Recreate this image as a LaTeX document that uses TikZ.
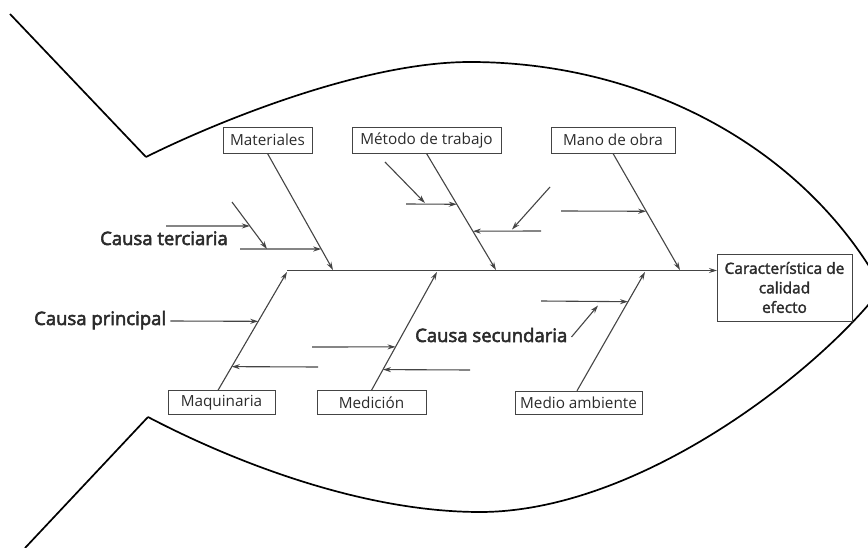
\documentclass[tikz,border=0pt]{standalone}
\usepackage{fontspec}
\setmainfont{Open Sans}
\newfontfamily\labfont{Open Sans}[FakeBold=3]
\newfontfamily\efffont{Open Sans}[FakeBold=2]
\usetikzlibrary{arrows.meta,calc}
\definecolor{ink}{HTML}{2B2B2B}
\definecolor{bone}{HTML}{444444}
\tikzset{
  catbox/.style={draw=bone, line width=0.9pt, text=ink, font=\fontsize{15.3}{17}\selectfont, inner sep=0pt, minimum height=26pt, anchor=center},
  lowbox/.style={catbox, minimum height=23.5pt},
  fish/.style={draw=black, line width=1.7pt, line join=miter},
  bonel/.style={draw=bone, line width=1.1pt},
  arr/.style={bonel, -{Stealth[length=8pt,width=5pt]}},
  cause/.style={text=ink, font=\labfont\fontsize{18.5}{20}\selectfont, inner sep=0pt, anchor=base west}
}
\begin{document}
\begin{tikzpicture}[x=1pt,y=-1pt]
\useasboundingbox (0,0) rectangle (868,548);
\clip (0,0) rectangle (868,548);
% fish outline
\coordinate (tailT) at (10,14);
\coordinate (tailB) at (25,548);
\coordinate (notchT) at (146,157);
\coordinate (notchB) at (148,417);
\coordinate (topP) at (470,62);
\coordinate (botP) at (480,512);
\coordinate (nose) at (882,288);
\draw[fish] (tailT) -- (notchT);
\draw[fish] (tailB) -- (notchB);
\draw[fish] (notchT) .. controls (210,125) and (360,62) .. (topP)
             .. controls (645,62) and (805,148) .. (nose);
\draw[fish] (notchB) .. controls (230,460) and (360,512) .. (botP)
             .. controls (640,512) and (820,370) .. (nose);

% category boxes
\node[catbox, minimum width=89pt]  (mat)   at (267.5,140) {Materiales};
\node[catbox, minimum width=149pt] (met)   at (426.5,140) {Método de trabajo};
\node[catbox, minimum width=124pt] (mano)  at (613,140)   {Mano de obra};
\node[lowbox, minimum width=107pt] (maq)   at (221.5,402.5) {Maquinaria};
\node[lowbox, minimum width=109pt] (med)   at (371.5,402.5) {Medición};
\node[lowbox, minimum width=127pt] (medio) at (578.5,403) {Medio ambiente};
\node[draw=bone, line width=0.9pt, text=ink, minimum width=135pt, minimum height=67pt, inner sep=0pt, align=center,
      font=\efffont\fontsize{15.5}{19.5}\selectfont] (eff) at (784.5,287.5) {Característica de\\calidad\\efecto};

% spine
\coordinate (sS) at (287,270.5);
\coordinate (sE) at (717,270.5);
\draw[arr] (sS) -- (sE);

% bone ends on spine
\coordinate (bMat)  at (333,270);
\coordinate (bMet)  at (496,270);
\coordinate (bMano) at (680,270);
\coordinate (bMaq)  at (287,272);
\coordinate (bMed)  at (437,272);
\coordinate (bMedio) at (645,272);
\coordinate (maqS) at ($(maq.north)+(-3.5,0)$);
\coordinate (medS) at (med.north);
\coordinate (medioS) at ($(medio.north)+(-1.5,0)$);

\draw[arr] (mat.south) -- (bMat);
\draw[arr] (met.south) -- (bMet);
\draw[arr] (mano.south) -- (bMano);
\draw[arr] (maqS) -- (bMaq);
\draw[arr] (medS) -- (bMed);
\draw[arr] (medioS) -- (bMedio);

% sub-causes: Materiales
\coordinate (d1a) at (232,202);
\coordinate (d1b) at (267,249);
\coordinate (h1a) at (166,226);
\coordinate (h2a) at (240,249);
\draw[arr] (d1a) -- (d1b);
\draw[arr] (h1a) -- ($(d1a)!0.51!(d1b)$);
\draw[arr] (h2a) -- ($(mat.south)!0.82!(bMat)$);
\node[cause] (terc) at (100,245) {Causa terciaria};

% sub-causes: Método de trabajo
\coordinate (d2a) at (385,162);
\coordinate (d2b) at (425,203);
\coordinate (h3a) at (406,204);
\draw[arr] (d2a) -- (d2b);
\draw[arr] (h3a) -- ($(met.south)!0.436!(bMet)$);
\coordinate (d3a) at (550,187);
\coordinate (d3b) at (512,229.5);
\coordinate (h4a) at (541,231);
\draw[arr] (d3a) -- (d3b);
\draw[arr] (h4a) -- ($(met.south)!0.667!(bMet)$);

% sub-causes: Mano de obra
\coordinate (h5a) at (561,211);
\draw[arr] (h5a) -- ($(mano.south)!0.496!(bMano)$);

% Maquinaria
\node[cause] (princ) at (34,325) {Causa principal};
\draw[arr] ($(princ.base east)+(4,-4)$) -- ($(maqS)!0.583!(bMaq)$);
\coordinate (h6a) at (318,367);
\draw[arr] (h6a) -- ($(maqS)!0.2!(bMaq)$);

% Medición
\coordinate (h7a) at (312,347);
\draw[arr] (h7a) -- ($(medS)!0.367!(bMed)$);
\coordinate (h8a) at (470,370);
\draw[arr] (h8a) -- ($(medS)!0.175!(bMed)$);

% Medio ambiente
\coordinate (h9a) at (541,301);
\draw[arr] (h9a) -- ($(medioS)!0.75!(bMedio)$);
\node[cause] (sec) at (415,342) {Causa secundaria};
\coordinate (d4b) at (598,305.5);
\draw[arr] ($(sec.base east)+(4,-5)$) -- (d4b);
\end{tikzpicture}
\end{document}
